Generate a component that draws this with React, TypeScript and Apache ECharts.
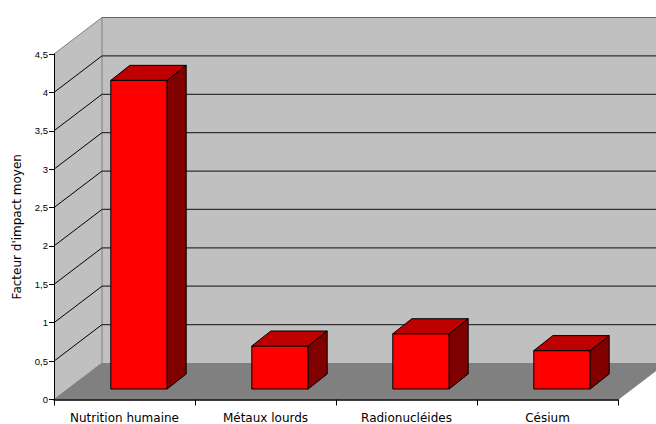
import React, { useEffect, useRef } from "react";
import * as echarts from "echarts";

const categories = ["Nutrition humaine", "Métaux lourds", "Radionucléides", "Césium"];
const values = [4.02, 0.56, 0.72, 0.5];
const yTicks = [0.5, 1, 1.5, 2, 2.5, 3, 3.5, 4, 4.5];
const yTitle = "Facteur d'impact moyen";

const DX = 48;
const DY = -36.5;
const BAR_DX = 19;
const BAR_DY = -15;
const PAD_DX = 14.5;
const PAD_DY = -10.5;
const PAGE_W = 656;

const poly = (points: number[][], fill: string, stroke?: string, lw = 1) => ({
  type: "polygon",
  shape: { points },
  style: { fill, stroke: stroke || "none", lineWidth: lw },
});
const line = (x1: number, y1: number, x2: number, y2: number, stroke: string, lw = 1) => ({
  type: "line",
  shape: { x1, y1, x2, y2 },
  style: { stroke, lineWidth: lw, fill: "none" },
});

export default function App() {
  const ref = useRef<HTMLDivElement>(null);
  useEffect(() => {
    const chart = echarts.init(ref.current!, undefined, { renderer: "svg" });
    chart.setOption({
      animation: false,
      backgroundColor: "#ffffff",
      grid: { left: 54, top: 54, width: 564, height: 345.5, containLabel: false, outerBoundsMode: "none" },
      xAxis: {
        type: "category",
        data: categories,
        z: 6,
        axisLine: { lineStyle: { color: "#000", width: 1.5 } },
        axisTick: { show: true, length: 6, alignWithLabel: false, lineStyle: { color: "#000" } },
        axisLabel: { fontFamily: "DejaVu Sans", fontSize: 12, color: "#000", margin: 12, interval: 0 },
      },
      yAxis: {
        type: "value",
        min: 0,
        max: 4.5,
        interval: 0.5,
        z: 6,
        name: yTitle,
        nameLocation: "middle",
        nameGap: 31,
        nameTextStyle: { fontFamily: "DejaVu Sans", fontSize: 12, color: "#000" },
        splitLine: { show: false },
        axisLine: { show: true, onZero: false, lineStyle: { color: "#000", width: 1 } },
        axisTick: { show: true, length: 5, lineStyle: { color: "#000" } },
        axisLabel: {
          fontFamily: "Liberation Sans",
          fontSize: 9.5,
          color: "#000",
          margin: 6,
          formatter: (v: number) => String(v).replace(".", ","),
        },
      },
      series: [
        {
          type: "custom",
          z: 1,
          silent: true,
          clip: false,
          data: [[0, 0]],
          renderItem: (params: any) => {
            const { x, y, width, height } = params.coordSys;
            const b = y + height;
            return {
              type: "group",
              children: [
                poly([[x, y], [x + DX, y + DY], [x + DX, b + DY], [x, b]], "#C0C0C0"),
                poly([[x + DX, y + DY], [PAGE_W + 2, y + DY], [PAGE_W + 2, b + DY], [x + DX, b + DY]], "#C0C0C0"),
                poly([[x, b], [x + DX, b + DY], [x + width + DX, b + DY], [x + width, b]], "#808080"),
                line(x, y, x + DX, y + DY, "#808080"),
                line(x + DX, y + DY, PAGE_W + 2, y + DY, "#666666", 1.2),
                line(x + DX, y + DY, x + DX, b + DY, "#808080"),
                line(x, b, x + DX, b + DY, "#808080"),
                line(x + width, b, x + width + DX, b + DY, "#808080"),
              ],
            };
          },
        },
        {
          type: "custom",
          z: 2,
          silent: true,
          clip: false,
          data: yTicks.map((t) => [0, t]),
          renderItem: (params: any, api: any) => {
            const { x } = params.coordSys;
            const yy = api.coord([0, api.value(1)])[1];
            const isTop = api.value(1) === yTicks[yTicks.length - 1];
            if (isTop) return { type: "group", children: [] };
            return {
              type: "group",
              children: [
                line(x, yy, x + DX, yy + DY, "#000"),
                line(x + DX, yy + DY, PAGE_W + 2, yy + DY, "#333", 1.3),
              ],
            };
          },
        },
        {
          type: "custom",
          z: 3,
          silent: true,
          clip: false,
          data: values.map((v, i) => [i, v]),
          renderItem: (_params: any, api: any) => {
            const c = api.coord([api.value(0), api.value(1)]);
            const base = api.coord([api.value(0), 0]);
            const w = api.size([1, 0])[0] * 0.4;
            const l = c[0] - w / 2 + PAD_DX;
            const r = l + w;
            const t = c[1] + PAD_DY;
            const bt = base[1] + PAD_DY;
            return {
              type: "group",
              children: [
                poly([[l, t], [r, t], [r, bt], [l, bt]], "#FF0000", "#000"),
                poly([[l, t], [l + BAR_DX, t + BAR_DY], [r + BAR_DX, t + BAR_DY], [r, t]], "#BF0000", "#000"),
                poly([[r, t], [r + BAR_DX, t + BAR_DY], [r + BAR_DX, bt + BAR_DY], [r, bt]], "#800000", "#000"),
              ],
            };
          },
        },
      ],
    });
    return () => chart.dispose();
  }, []);
  return <div ref={ref} style={{ position: "absolute", left: 0, top: 0, width: 656, height: 424 }} />;
}
